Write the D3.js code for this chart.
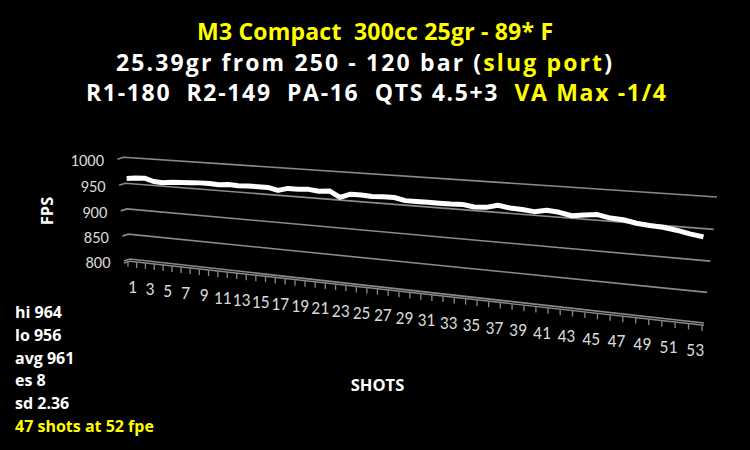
<!DOCTYPE html>
<html><head><meta charset="utf-8">
<script src="https://cdn.jsdelivr.net/npm/d3@7"></script>
<style>body{margin:0;background:#000}svg{display:block}text{white-space:pre}</style>
</head><body><svg id="c" width="750" height="450"></svg>
<script>
// ---- data ----
const shots = d3.range(1, 54);
const fps = [962,964,965,960,959,961,962,963,964,964,
             963,965,964,965,965,965,961,966,966,967,
             965,967,957,964,964,963,964,964,960,960,
             960,960,960,961,958,959,964,961,960,958,
             962,960,956,959,961,957,956,952,950,949,
             946,942,939];
const yTicks = [800, 850, 900, 950, 1000];
const xLabels = shots.filter(d => d % 2 === 1);
const titleLines = [
  [["M3 Compact  300cc 25gr - 89* F", "#ffff00"]],
  [["25.39gr from 250 - 120 bar (", "#ffffff"], ["slug port", "#ffff00"], [")", "#ffffff"]],
  [["R1-180  R2-149  PA-16  QTS 4.5+3  ", "#ffffff"], ["VA Max -1/4", "#ffff00"]]
];
const titleWidths = [356, 496, 580];
const titleCenters = [375, 364, 376];
const stats = ["hi 964", "lo 956", "avg 961", "es 8", "sd 2.36"];
const statsNote = "47 shots at 52 fpe";

// ---- layout ----
const svg = d3.select("#c");
svg.append("rect").attr("width", 750).attr("height", 450).attr("fill", "#000");

// back wall quad corners (perspective view)
const Q = {p00: [130, 259], p10: [704, 323], p11: [717, 197], p01: [123.5, 157.3]};
function makeHomography(q) {
  const [x0, y0] = q.p00, [x1, y1] = q.p10, [x2, y2] = q.p11, [x3, y3] = q.p01;
  const dx1 = x1 - x2, dx2 = x3 - x2, dx3 = x0 - x1 + x2 - x3;
  const dy1 = y1 - y2, dy2 = y3 - y2, dy3 = y0 - y1 + y2 - y3;
  const det = dx1 * dy2 - dx2 * dy1;
  const g = (dx3 * dy2 - dx2 * dy3) / det;
  const h = (dx1 * dy3 - dx3 * dy1) / det;
  const a = x1 - x0 + g * x1, b = x3 - x0 + h * x3, c = x0;
  const d = y1 - y0 + g * y1, e = y3 - y0 + h * y3, f = y0;
  return (s, t) => {
    const w = g * s + h * t + 1;
    return [(a * s + b * t + c) / w, (d * s + e * t + f) / w];
  };
}
const H = makeHomography(Q);
const sx = d3.scaleLinear().domain([0, shots.length]).range([0, 1]);
const sy = d3.scaleLinear().domain([800, 1000]).range([0, 1]);
const P = (u, v) => H(sx(u), sy(v));

const gridCol = "#8a8a8a";
const g = svg.append("g");

// gridlines on back wall with small side-wall return at left
yTicks.forEach(v => {
  const a = P(0, v), b = P(shots.length, v);
  g.append("path")
    .attr("d", d3.line()([[a[0] - 6, a[1] + 2], a, b]))
    .attr("fill", "none").attr("stroke", gridCol).attr("stroke-width", 1.6);
});
// floor front edge
{
  const a = P(0, 800), b = P(shots.length, 800);
  g.append("path")
    .attr("d", d3.line()([[a[0] - 6, a[1] + 4], [a[0], a[1] + 2.2], [b[0], b[1] + 2.2]]))
    .attr("fill", "none").attr("stroke", gridCol).attr("stroke-width", 1.4);
}
// tick marks
d3.range(0, shots.length + 1).forEach(u => {
  const p = P(u, 800);
  g.append("line")
    .attr("x1", p[0] - 2).attr("x2", p[0] - 2)
    .attr("y1", p[1] + 2.5).attr("y2", p[1] + 8)
    .attr("stroke", gridCol).attr("stroke-width", 1.3);
});

const labFont = "Carlito, Lato, sans-serif";
const boldFont = "'Open Sans', Lato, sans-serif";

// y axis labels
yTicks.forEach(v => {
  const p = P(0, v);
  svg.append("text").attr("x", p[0] - 19.5).attr("y", p[1] + 3)
    .attr("text-anchor", "end").attr("dominant-baseline", "central")
    .attr("font-family", labFont).attr("font-size", 16.5)
    .attr("fill", "#d9d9d9").text(v);
});
// x axis labels
xLabels.forEach(s => {
  const p = P(s - 0.5, 800);
  svg.append("text").attr("x", p[0] - 2).attr("y", p[1] + 28)
    .attr("text-anchor", "middle").attr("dominant-baseline", "central")
    .attr("font-family", labFont).attr("font-size", 17.5)
    .attr("fill", "#d9d9d9").text(s);
});

// data ribbon
const pts = shots.map((s, i) => {
  const p = P(s - 0.5, fps[i]);
  return [p[0] - 2.5, p[1] + 1];
});
svg.append("path").attr("d", d3.line()(pts))
  .attr("fill", "none").attr("stroke", "#ffffff").attr("stroke-width", 5)
  .attr("stroke-linejoin", "round");

// titles
titleLines.forEach((parts, i) => {
  const t = svg.append("text").attr("x", titleCenters[i]).attr("y", 40 + i * 30.5)
    .attr("text-anchor", "middle").attr("font-family", boldFont)
    .attr("font-weight", "bold").attr("font-size", 23)
    .attr("textLength", titleWidths[i]).attr("lengthAdjust", "spacing");
  parts.forEach(([txt, col]) => t.append("tspan").attr("fill", col).text(txt));
});

// axis titles
svg.append("text").attr("transform", "translate(46,211) rotate(-90)")
  .attr("text-anchor", "middle").attr("dominant-baseline", "central")
  .attr("font-family", boldFont).attr("font-weight", "bold").attr("font-size", 16.5)
  .attr("fill", "#ffffff").text("FPS");
svg.append("text").attr("x", 377.5).attr("y", 390.5)
  .attr("text-anchor", "middle").attr("font-family", boldFont)
  .attr("font-weight", "bold").attr("font-size", 16.5)
  .attr("fill", "#ffffff").text("SHOTS");

// stats
stats.concat([statsNote]).forEach((s, i) => {
  svg.append("text").attr("x", 15).attr("y", 318 + i * 22.8)
    .attr("font-family", boldFont).attr("font-weight", "bold").attr("font-size", 16)
    .attr("fill", i === stats.length ? "#ffff00" : "#ffffff").text(s);
});
</script></body></html>
